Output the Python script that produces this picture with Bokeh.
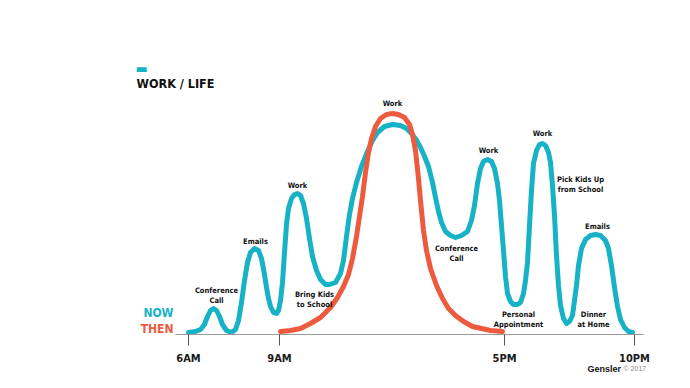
from bokeh.plotting import figure
from bokeh.models import Range1d, FixedTicker, Label, ColumnDataSource
from bokeh.core.properties import value
from bokeh.embed import file_html
from bokeh.resources import INLINE

# ---------------- data ----------------
tick_labels = ["6AM", "9AM", "5PM", "10PM"]
tick_pos = [0, 91, 316, 446]

now_x = [0, 7, 12, 16, 19, 22, 25, 28, 31, 34, 38, 43, 47, 50, 53, 56, 59, 62, 66, 70,
         73, 76, 78, 80, 82, 85, 88, 90, 92, 94, 96, 98, 100, 103, 106, 109, 112, 115, 118,
         121, 124, 128, 132, 137, 141, 147, 152, 155, 158, 161, 164, 168, 173, 179, 184,
         189, 196, 204, 212, 218, 222, 227, 232, 236, 240, 244, 247, 250, 253, 257, 262,
         267, 273, 279, 283, 286, 289, 292, 295, 299, 303, 306, 309, 311, 313, 315, 317,
         319, 322, 325, 329, 332, 335, 337, 339, 341, 343, 345, 348, 351, 354, 357, 360,
         362, 364, 366, 368, 370, 372, 375, 378, 381, 384, 386, 388, 390, 393, 397, 402,
         407, 412, 417, 420, 423, 426, 429, 432, 436, 440, 444]
now_y = [0, 1, 3, 8, 16, 22, 24, 22, 16, 8, 2, 0, 3, 12, 30, 52, 70, 80, 84, 82,
         74, 58, 45, 34, 26, 20, 19, 22, 32, 50, 80, 108, 124, 134, 138, 139, 137, 129, 114,
         94, 76, 62, 53, 48, 48, 50, 59, 72, 96, 118, 134, 150, 166, 181, 192,
         200, 206, 208, 207, 204, 200, 194, 185, 176, 166, 150, 135, 121, 110, 101, 97,
         95, 97, 101, 112, 127, 149, 164, 171, 173, 171, 164, 149, 132, 107, 82, 56,
         39, 31, 28, 28, 30, 39, 52, 70, 107, 142, 169, 182, 188, 189, 187, 180,
         170, 147, 117, 77, 47, 27, 14, 9, 11, 17, 32, 47, 67, 84, 93, 97,
         98, 97, 92, 84, 67, 45, 26, 13, 5, 1, 0]

then_x = [92, 102, 112, 122, 132, 142, 149, 155, 160, 164, 168, 171, 174, 177, 180, 183,
          187, 192, 198, 204, 210, 216, 221, 224, 227, 230, 232, 235, 238, 242, 248, 254,
          260, 267, 275, 284, 293, 302, 314]
then_y = [1, 2, 4, 9, 15, 25, 35, 46, 58, 74, 96, 116, 136, 160, 180, 194,
          206, 214, 218, 219, 218, 215, 208, 198, 182, 154, 132, 102, 82, 64, 47, 34,
          24, 17, 11, 6, 4, 2, 1]

activities = ["Conference\nCall", "Emails", "Work", "Bring Kids\nto School", "Work",
              "Conference\nCall", "Work", "Work", "Pick Kids Up\nfrom School", "Emails",
              "Personal\nAppointment", "Dinner\nat Home"]
activity_x = [28, 67, 109, 126, 204, 268, 300, 354, 392, 409, 330, 405]
activity_y = [37, 91, 147, 33, 229, 79, 182, 199, 148, 106, 13, 13]

series_names = ["NOW", "THEN"]

# ---------------- styles ----------------
TEAL = "#17b2c5"
ORANGE = "#ee5a3e"
FONT = "'DejaVu Sans Condensed', sans-serif"

p = figure(width=674, height=372, output_backend="svg", toolbar_location=None,
           x_range=Range1d(-188, 486), y_range=Range1d(-40, 332),
           y_axis_location=None, min_border=0)
p.outline_line_color = None
p.xgrid.visible = False
p.ygrid.visible = False
p.background_fill_color = "white"
p.border_fill_color = "white"

p.line(now_x, now_y, line_color=TEAL, line_width=5, line_cap="round", line_join="round")
p.line(then_x, then_y, line_color=ORANGE, line_width=5, line_cap="round", line_join="round")

src = ColumnDataSource(dict(x=activity_x, y=activity_y, t=activities))
p.text(x="x", y="y", text="t", source=src, text_align="center", text_baseline="middle",
       text_font=value(FONT), text_font_style="bold", text_font_size="7.5px",
       text_color="#111111", text_line_height=1.2)

ax = p.xaxis[0]
ax.fixed_location = -2
ax.bounds = (-13, 455)
ax.ticker = FixedTicker(ticks=tick_pos)
ax.major_label_overrides = {t: l for t, l in zip(tick_pos, tick_labels)}
ax.axis_line_color = "#9a9a9a"
ax.axis_line_width = 1
ax.major_tick_line_color = "#555555"
ax.major_tick_out = 11
ax.major_tick_in = 0
ax.minor_tick_out = 0
ax.minor_tick_in = 0
ax.major_label_standoff = 6
ax.major_label_text_font = FONT
ax.major_label_text_font_style = "bold"
ax.major_label_text_font_size = "11px"
ax.major_label_text_color = "#1a1a1a"

p.add_layout(Label(x=-15, y=20, text=series_names[0], text_align="right", text_baseline="middle",
                   text_font=FONT, text_font_style="bold", text_font_size="12px", text_color=TEAL))
p.add_layout(Label(x=-15, y=4, text=series_names[1], text_align="right", text_baseline="middle",
                   text_font=FONT, text_font_style="bold", text_font_size="12px", text_color=ORANGE))

p.add_layout(Label(x=-52, y=249, text="WORK / LIFE", text_align="left", text_baseline="middle",
                   text_font=FONT, text_font_style="bold", text_font_size="12.5px", text_color="#111111"))
p.add_layout(Label(x=-53, y=264, text="\u25ac", text_align="left", text_baseline="middle",
                   text_font="DejaVu Sans", text_font_size="13px", text_color=TEAL))

p.add_layout(Label(x=399, y=-36, text="Gensler", text_align="left", text_baseline="middle",
                   text_font="'Liberation Sans', sans-serif", text_font_style="bold",
                   text_font_size="9px", text_color="#111111"))
p.add_layout(Label(x=435, y=-36, text="\u00a9 2017", text_align="left", text_baseline="middle",
                   text_font="'Liberation Sans', sans-serif", text_font_size="7px",
                   text_color="#888888"))

open("out.html", "w").write(file_html(p, INLINE))
